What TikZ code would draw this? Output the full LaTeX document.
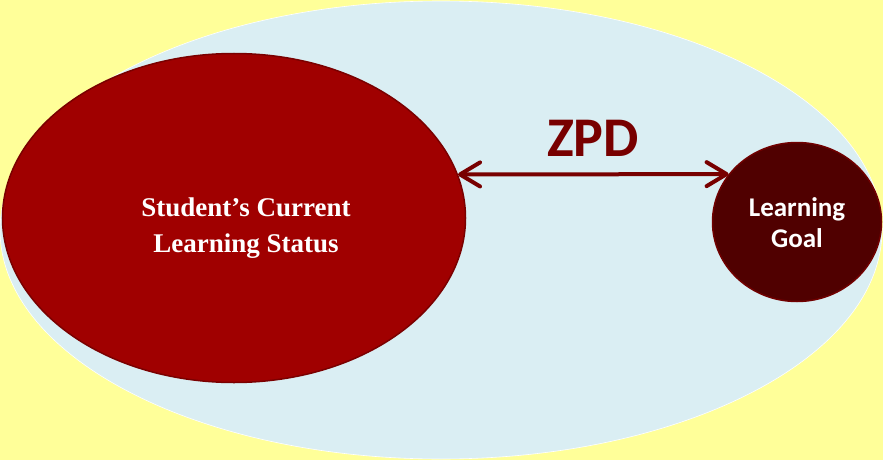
\documentclass[tikz,border=0pt]{standalone}
\usepackage{fontspec}
\setmainfont{Liberation Serif}
\newfontfamily\calibfont{Carlito}
\usetikzlibrary{shapes.geometric,arrows.meta}
\definecolor{bgyellow}{RGB}{255,255,153}
\definecolor{zoneblue}{RGB}{218,238,243}
\definecolor{curred}{RGB}{160,0,0}
\definecolor{curedge}{RGB}{122,0,0}
\definecolor{goalfill}{RGB}{80,0,0}
\definecolor{goaledge}{RGB}{112,0,0}
\definecolor{zpdcol}{RGB}{120,0,0}
\tikzset{
  blob/.style={ellipse, inner sep=0pt, line width=1.5pt},
  whitetext/.style={text=white, align=center, anchor=base},
  zpdarrow/.style={draw=zpdcol, line width=4pt, line cap=round,
    {Straight Barb[length=20pt,width=24pt,round]}-{Straight Barb[length=20pt,width=24pt,round]}}
}
\begin{document}
\begin{tikzpicture}[x=1pt,y=-1pt]
\fill[bgyellow] (0,0) rectangle (883,460);
\useasboundingbox (0,0) rectangle (883,460);
\node[blob, fill=zoneblue, draw=white, line width=0.6pt, minimum width=882pt, minimum height=458pt] (zone) at (441,230) {};
\node[blob, fill=curred, draw=curedge, minimum width=463pt, minimum height=329pt] (current) at (234,218) {};
\node[blob, fill=goalfill, draw=goaledge, minimum width=169pt, minimum height=159pt] (goal) at (797,222) {};
\draw[zpdarrow] (current.11) -- (goal.145);
\node[anchor=base, text=zpdcol, font=\calibfont\bfseries\fontsize{56}{56}\selectfont] (zpd) at (593,156) {ZPD};
\node[whitetext, font=\bfseries\fontsize{27}{36}\selectfont] (curtext) at (246,252) {Student’s Current\\Learning Status};
\node[whitetext, font=\calibfont\bfseries\fontsize{27}{31}\selectfont] (goaltext) at (797,247) {Learning\\Goal};
\end{tikzpicture}
\end{document}
